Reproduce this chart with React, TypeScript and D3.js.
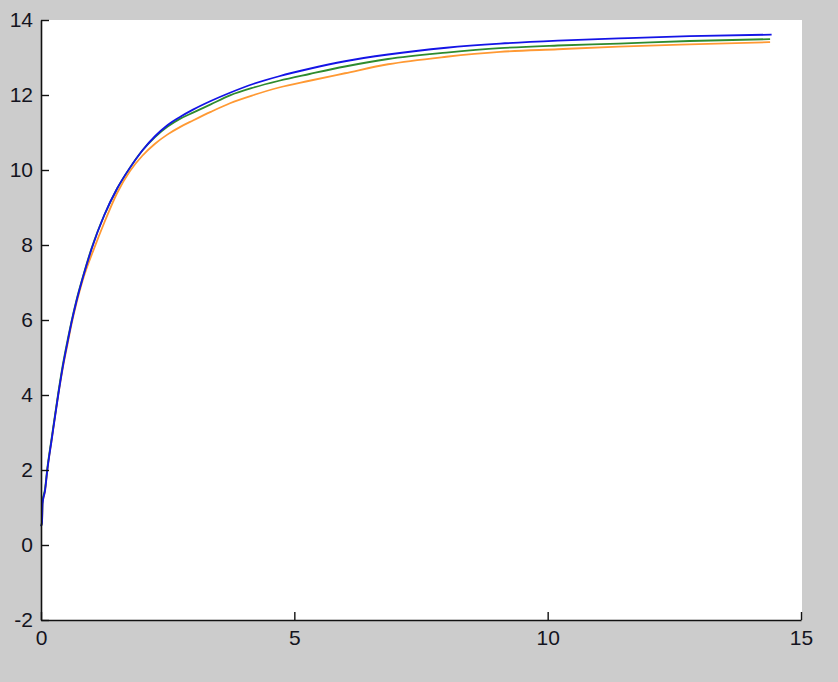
import React, { useEffect, useRef } from "react";
import * as d3 from "d3";

// values: [t, value]
const bluePoints: [number, number][] = [
    [0, 0.5], [0.02, 0.6], [0.03, 1.1], [0.08, 1.45], [0.125, 2.0], [0.21, 2.8],
    [0.34, 4.0], [0.43, 4.75], [0.53, 5.45], [0.6, 5.92], [0.7, 6.5], [0.82, 7.1],
    [1.0, 7.9], [1.25, 8.8], [1.5, 9.5], [1.75, 10.05], [2.0, 10.52], [2.25, 10.9],
    [2.5, 11.2], [2.75, 11.42], [3.0, 11.61], [3.35, 11.84], [3.73, 12.06], [4.2, 12.3],
    [4.7, 12.5], [5.3, 12.7], [6.0, 12.9], [6.85, 13.08], [8.0, 13.26], [9.06, 13.37],
    [10.2, 13.45], [11.4, 13.51], [12.8, 13.57], [14.42, 13.61],
];

const greenPoints: [number, number][] = [
    [0, 0.5], [0.02, 0.62], [0.03, 1.15], [0.08, 1.5], [0.125, 2.05], [0.21, 2.85],
    [0.34, 4.05], [0.43, 4.8], [0.53, 5.5], [0.6, 5.95], [0.7, 6.53], [0.82, 7.12],
    [1.0, 7.92], [1.25, 8.8], [1.5, 9.5], [1.75, 10.05], [2.0, 10.52], [2.25, 10.88],
    [2.5, 11.16], [2.75, 11.37], [3.0, 11.53], [3.35, 11.75], [3.73, 11.99], [4.2, 12.2],
    [4.7, 12.38], [5.3, 12.56], [6.0, 12.76], [6.85, 12.96], [8.0, 13.13], [9.06, 13.25],
    [10.2, 13.32], [11.4, 13.37], [12.8, 13.44], [14.39, 13.49],
];

const orangePoints: [number, number][] = [
    [0, 0.5], [0.02, 0.6], [0.03, 1.1], [0.08, 1.45], [0.125, 2.0], [0.21, 2.8],
    [0.34, 4.0], [0.43, 4.72], [0.53, 5.4], [0.6, 5.87], [0.7, 6.45], [0.82, 7.05],
    [1.06, 7.95], [1.25, 8.6], [1.5, 9.38], [1.76, 9.98], [2.0, 10.38], [2.25, 10.7],
    [2.5, 10.95], [2.75, 11.15], [3.0, 11.32], [3.35, 11.55], [3.73, 11.78], [4.2, 12.0],
    [4.7, 12.2], [5.3, 12.38], [6.0, 12.58], [6.85, 12.82], [8.0, 13.02], [9.06, 13.15],
    [10.2, 13.22], [11.4, 13.29], [12.8, 13.35], [14.39, 13.41],
];

const xTicks = [0, 5, 10, 15];
const yTicks = [-2, 0, 2, 4, 6, 8, 10, 12, 14];

const series = [
    { name: "orange", points: orangePoints, color: "#ff9933" },
    { name: "green", points: greenPoints, color: "#2e8b2e" },
    { name: "blue", points: bluePoints, color: "#1414e6" },
];

export default function App() {
    const ref = useRef<SVGSVGElement>(null);

    useEffect(() => {
        const margin = { top: 20, right: 37, bottom: 62, left: 41 };
        const fullWidth = 838;
        const fullHeight = 682;
        const width = fullWidth - margin.left - margin.right;
        const height = fullHeight - margin.top - margin.bottom;

        const root = d3.select(ref.current);
        root.selectAll("*").remove();

        root.append("rect")
            .attr("width", fullWidth)
            .attr("height", fullHeight)
            .attr("fill", "#cccccc");

        const svg = root
            .append("g")
            .attr("transform", `translate(${margin.left}, ${margin.top})`);

        svg.append("rect")
            .attr("width", width + 1)
            .attr("height", height)
            .attr("fill", "#ffffff");

        const xScale = d3.scaleLinear().domain([0, 15]).range([0, width]);
        const yScale = d3.scaleLinear().domain([-2, 14]).range([height, 0]);

        const line = d3
            .line<[number, number]>()
            .x((d) => xScale(d[0]))
            .y((d) => yScale(d[1]))
            .curve(d3.curveMonotoneX);

        series.forEach((s) => {
            svg.append("path")
                .datum(s.points)
                .attr("fill", "none")
                .attr("stroke", s.color)
                .attr("stroke-width", 1.8)
                .attr("d", line);
        });

        // plain hyphen for negatives, like the original
        const fmt = (d: d3.NumberValue) => String(d);

        const xAxis = svg
            .append("g")
            .attr("transform", `translate(0, ${height})`)
            .call(
                d3.axisBottom(xScale)
                    .tickValues(xTicks)
                    .tickFormat(fmt)
                    .tickSizeInner(-8)
                    .tickSizeOuter(0)
                    .tickPadding(10)
            );

        const yAxis = svg
            .append("g")
            .call(
                d3.axisLeft(yScale)
                    .tickValues(yTicks)
                    .tickFormat(fmt)
                    .tickSizeInner(-8)
                    .tickSizeOuter(0)
                    .tickPadding(8)
            );

        [xAxis, yAxis].forEach((ax) => {
            ax.attr("font-family", null).attr("font-size", null);
            ax.selectAll("path").attr("stroke", "#111").attr("stroke-width", 1.6);
            ax.selectAll("line").attr("stroke", "#111").attr("stroke-width", 1.4);
            ax.selectAll("text")
                .attr("fill", "#14141e")
                .style("font-family", "'Liberation Sans', Arial, sans-serif")
                .style("font-size", "21px");
        });
    }, []);

    return (
        <svg
            ref={ref}
            width={838}
            height={682}
            style={{ position: "fixed", left: 0, top: 0, display: "block" }}
        />
    );
}
